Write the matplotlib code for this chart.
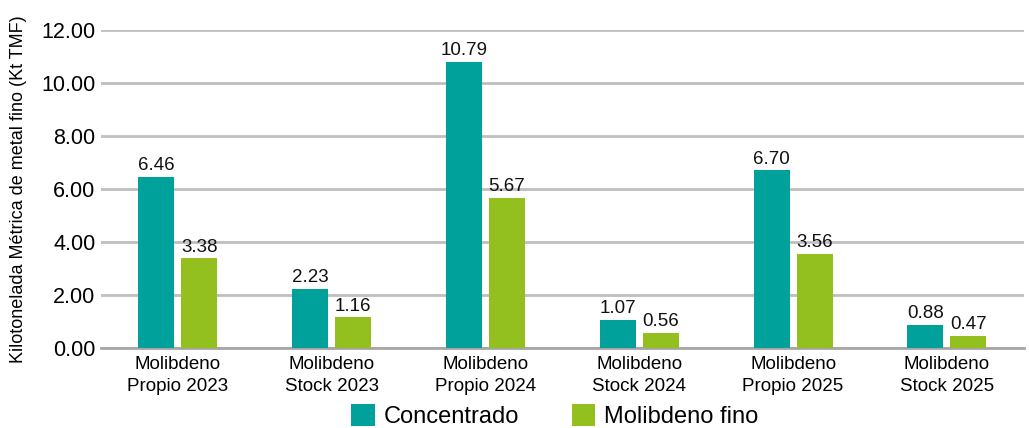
import matplotlib.pyplot as plt
import numpy as np

plt.rcParams['font.family'] = ['Liberation Sans', 'DejaVu Sans']

categories = ['Molibdeno\nPropio 2023', 'Molibdeno\nStock 2023', 'Molibdeno\nPropio 2024',
              'Molibdeno\nStock 2024', 'Molibdeno\nPropio 2025', 'Molibdeno\nStock 2025']
concentrado = [6.46, 2.23, 10.79, 1.07, 6.70, 0.88]
molibdeno_fino = [3.38, 1.16, 5.67, 0.56, 3.56, 0.47]

teal = '#00A19B'
green = '#93C01F'
grid_col = '#BFBFBF'

fig = plt.figure(figsize=(10.29, 4.28), dpi=100)
ax = fig.add_axes([0.098, 0.187, 0.897, 0.743])

x = np.arange(len(categories))
w = 0.234
off = 0.14
b1 = ax.bar(x - off, concentrado, w, color=teal, label='Concentrado', zorder=3)
b2 = ax.bar(x + off, molibdeno_fino, w, color=green, label='Molibdeno fino', zorder=3)

for bars, vals in [(b1, concentrado), (b2, molibdeno_fino)]:
    for r, v in zip(bars, vals):
        ax.text(r.get_x() + r.get_width() / 2, v + 0.1, '%.2f' % v,
                ha='center', va='bottom', fontsize=13.5, color='#111111')

ax.set_xlim(-0.5, 5.5)
ax.set_ylim(0, 12)
ax.set_yticks(np.arange(0, 13, 2))
ax.set_yticklabels(['%.2f' % t for t in np.arange(0, 13, 2)], fontsize=15.5)
ax.set_xticks(x)
ax.set_xticklabels(categories, fontsize=13.5, linespacing=1.38)
ax.tick_params(length=0, pad=6)
ax.tick_params(axis='y', pad=4)
ax.yaxis.grid(True, color=grid_col, linewidth=2, zorder=0)
for s in ['top', 'right', 'left']:
    ax.spines[s].set_visible(False)
ax.spines['bottom'].set_color('#A6A6A6')
ax.spines['bottom'].set_linewidth(2)
ax.set_ylabel('Kilotonelada Métrica de metal fino (Kt TMF)', fontsize=13)
ax.yaxis.set_label_coords(-0.080, 0.5)

fig.legend(handles=[b1, b2], loc='lower center', bbox_to_anchor=(0.539, -0.05), ncol=2,
           frameon=False, fontsize=17, handlelength=1.0, handleheight=1.0,
           handletextpad=0.35, columnspacing=2.25)

fig.savefig('out.png', dpi=100)
